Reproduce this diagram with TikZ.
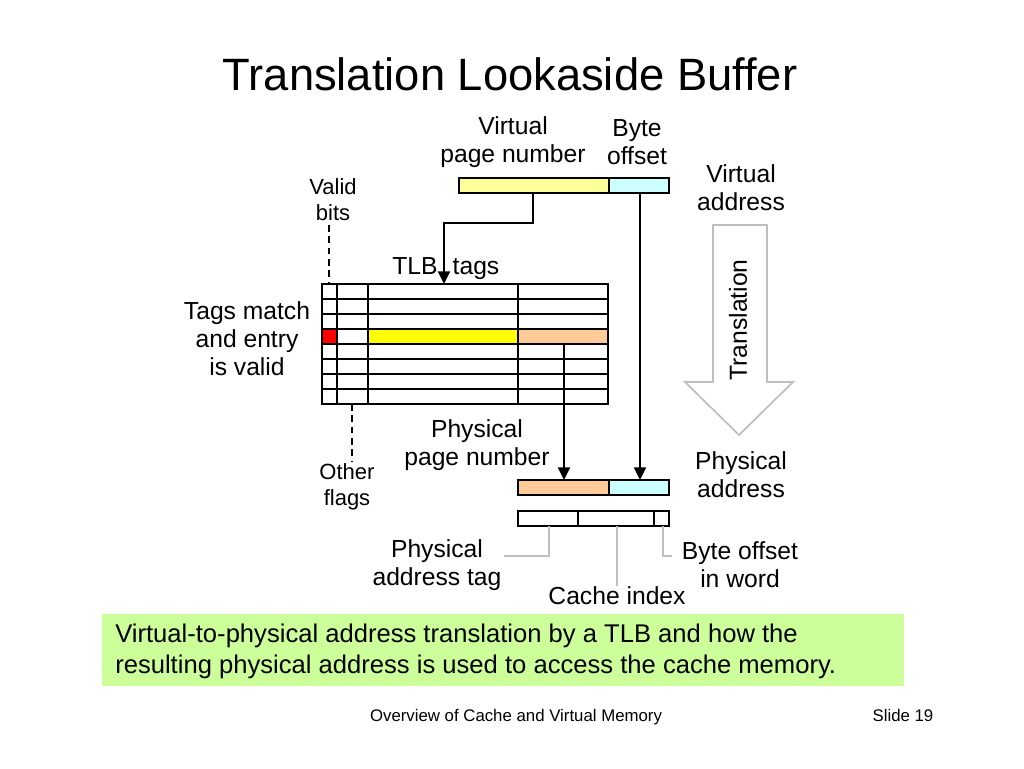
\documentclass[tikz,border=0pt]{standalone}
\usepackage{fontspec}
\setmainfont{Liberation Sans}
\usetikzlibrary{arrows.meta}
\definecolor{lyellow}{HTML}{FFFF99}
\definecolor{lcyan}{HTML}{CCFFFF}
\definecolor{lorange}{HTML}{FFCC99}
\definecolor{lgreen}{HTML}{CCFF99}
\definecolor{lgray}{HTML}{BFBFBF}
\definecolor{bred}{HTML}{FF0000}
\definecolor{byellow}{HTML}{FFFF00}
\begin{document}
\begin{tikzpicture}[x=0.75pt,y=-0.75pt,
  lbl/.style={font=\fontsize{18.5}{21}\selectfont, align=center, inner sep=0},
  sml/.style={font=\fontsize{16.5}{19.5}\selectfont, align=center, inner sep=0},
  foot/.style={font=\fontsize{12.6}{15}\selectfont, inner sep=0, anchor=base},
  wire/.style={line width=1.4pt},
  arr/.style={wire, -{Triangle[length=9.5pt,width=9pt]}},
  leader/.style={draw=lgray, line width=1.3pt},
  dashline/.style={line width=1.4pt, dash pattern=on 5pt off 3.5pt}]
\useasboundingbox (0,0) rectangle (1024,768);
\fill[white] (0,0) rectangle (1024,768);
% title
\node[font=\fontsize{34}{40}\selectfont, anchor=base, inner sep=0] (title) at (510,90) {Translation Lookaside Buffer};
% virtual address
\filldraw[wire, fill=lyellow] (459,178) rectangle (609,193);
\filldraw[wire, fill=lcyan] (609,178) rectangle (669,193);
\coordinate (vpn) at (533,193);
\coordinate (voff) at (640,193);
\coordinate (tlbtop) at (444,284);
\coordinate (ppnsrc) at (564,344);
\coordinate (ppn) at (564,480);
\coordinate (poff) at (640,480);
\node[lbl] (vpnlbl) at (513,142) {Virtual\\page number};
\node[lbl] (offlbl) at (637,142) {Byte\\offset};
\node[lbl] (valbl) at (741,188) {Virtual\\address};
% TLB table
\fill[bred] (322,329) rectangle (337,344);
\fill[byellow] (368,329) rectangle (518,344);
\fill[lorange] (518,329) rectangle (608,344);
\draw[wire] (322,284) rectangle (608,404);
\foreach \yy in {299,314,...,389} \draw[wire] (322,\yy) -- (608,\yy);
\foreach \xx in {337,368,518} \draw[wire] (\xx,284) -- (\xx,404);
\node[lbl, anchor=base] (tlb) at (415,274) {TLB};
\node[lbl, anchor=base] (tags) at (476,274) {tags};
\node[lbl] (match) at (247,339) {Tags match\\and entry\\is valid};
\node[sml] (validlbl) at (333,200) {Valid\\bits};
\coordinate (validtop) at (329,225);
\coordinate (validbot) at (329,284);
\draw[dashline] (validtop) -- (validbot);
\coordinate (flagtop) at (352,404);
\coordinate (flagbot) at (352,462);
\draw[dashline] (flagtop) -- (flagbot);
\node[sml] (flags) at (347,487) {Other\\flags};
% connectors
\draw[arr] (vpn) -- ++(0,30) -| (tlbtop);
\draw[arr] (voff) -- (poff);
\draw[arr] (ppnsrc) -- (ppn);
% physical address
\filldraw[wire, fill=lorange] (518,480) rectangle (609,495);
\filldraw[wire, fill=lcyan] (609,480) rectangle (669,495);
\node[lbl] (ppnlbl) at (477,445) {Physical\\page number};
\node[lbl] (palbl) at (741,475) {Physical\\address};
% cache fields
\draw[wire] (518,511) rectangle (669,526);
\draw[wire] (578,511) -- (578,526);
\draw[wire] (654,511) -- (654,526);
\coordinate (tagfld) at (549,526);
\coordinate (idxfld) at (617,526);
\coordinate (bowfld) at (663,526);
\node[lbl] (taglbl) at (437,565) {Physical\\address tag};
\node[lbl] (bowlbl) at (740,565) {Byte offset\\in word};
\node[lbl, anchor=base] (cilbl) at (617,604) {Cache index};
\draw[leader] (tagfld) |- (504,556);
\draw[leader] (idxfld) -- (cilbl.north);
\draw[leader] (bowfld) |- (672,556);
% translation arrow
\draw[lgray, line width=1.3pt, fill=white] (713,225) -- (767,225) -- (767,382) -- (793,382) -- (739,435) -- (685,382) -- (713,382) -- cycle;
\node[lbl, rotate=90] (trans) at (738,320) {Translation};
% caption
\fill[lgreen] (102,614) rectangle (904,686);
\node[font=\fontsize{19.2}{23.25}\selectfont, align=left, anchor=west, inner sep=0] (cap) at (115,651.5) {Virtual-to-physical address translation by a TLB and how the\\resulting physical address is used to access the cache memory.};
% footer
\node[foot] (footer) at (516,721) {Overview of Cache and Virtual Memory};
\node[foot] (slide) at (903,721) {Slide 19};
\end{tikzpicture}
\end{document}
